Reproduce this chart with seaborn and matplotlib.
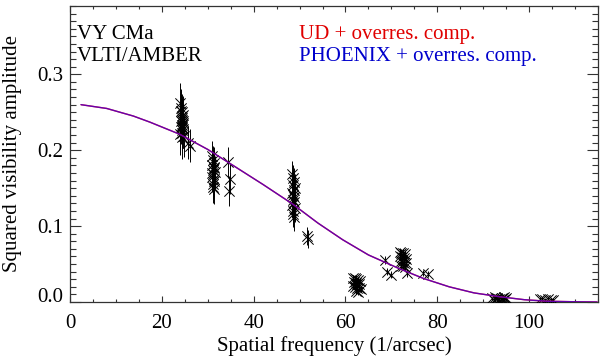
import numpy as np
import pandas as pd
import seaborn as sns
import matplotlib.pyplot as plt
from matplotlib.ticker import MultipleLocator

# model curves (UD and PHOENIX fits overlap almost exactly)
curve_f = [2.4, 8, 13.8, 17.4, 23.9, 30, 35.5, 42, 48.5, 54, 59.4, 65, 71.7, 77,
           82.6, 88, 93.5, 99, 104, 110, 114.8]
curve_v = [0.260, 0.255, 0.245, 0.237, 0.221, 0.201, 0.180, 0.155, 0.129, 0.104, 0.082,
           0.062, 0.044, 0.031, 0.020, 0.012, 0.007, 0.003, 0.001, 0.0003, 0.0]

# AMBER data: spatial frequency, squared visibility, error
f1 = [24.0, 24.2, 24.4, 24.6, 24.3, 24.5, 24.1, 24.7, 24.4, 24.2, 24.6, 24.3, 24.5, 24.0,
      24.8, 24.4, 24.2, 24.6, 24.5, 24.3, 25.8, 26.2]
v1 = [0.262, 0.255, 0.250, 0.246, 0.243, 0.240, 0.238, 0.236, 0.233, 0.230, 0.228, 0.226,
      0.223, 0.221, 0.219, 0.245, 0.252, 0.239, 0.231, 0.218, 0.210, 0.206]
e1 = [0.027, 0.025, 0.024, 0.026, 0.022, 0.025, 0.023, 0.024, 0.026, 0.022, 0.025, 0.024,
      0.023, 0.027, 0.028, 0.024, 0.026, 0.022, 0.025, 0.029, 0.022, 0.022]

f2 = [31.0, 31.2, 31.4, 30.9, 31.3, 31.1, 31.5, 31.2, 31.0, 31.4, 31.3, 31.1, 31.2, 31.4,
      30.9, 31.3, 34.4, 34.8, 34.6]
v2 = [0.192, 0.187, 0.183, 0.180, 0.177, 0.174, 0.171, 0.168, 0.165, 0.162, 0.159, 0.156,
      0.152, 0.149, 0.170, 0.178, 0.184, 0.162, 0.146]
e2 = [0.020, 0.019, 0.021, 0.018, 0.020, 0.019, 0.022, 0.018, 0.020, 0.019, 0.021, 0.020,
      0.022, 0.020, 0.018, 0.019, 0.020, 0.020, 0.020]

f3 = [48.4, 48.6, 48.8, 48.5, 48.9, 48.7, 48.3, 48.6, 48.8, 48.5, 48.7, 48.4, 48.9, 48.6,
      48.5, 48.7, 51.6, 51.9]
v3 = [0.168, 0.163, 0.158, 0.154, 0.150, 0.147, 0.144, 0.141, 0.138, 0.135, 0.132, 0.128,
      0.124, 0.120, 0.116, 0.112, 0.087, 0.083]
e3 = [0.018, 0.017, 0.019, 0.016, 0.018, 0.017, 0.018, 0.016, 0.019, 0.017, 0.018, 0.017,
      0.019, 0.018, 0.017, 0.019, 0.012, 0.012]

f4 = [61.6, 62.0, 62.4, 62.8, 63.2, 61.8, 62.2, 62.6, 63.0, 61.7, 62.1, 62.5, 62.9, 63.3,
      62.3, 62.7, 68.5, 69.1, 70.0]
v4 = [0.032, 0.031, 0.030, 0.029, 0.028, 0.026, 0.025, 0.024, 0.024, 0.021, 0.020, 0.019,
      0.018, 0.017, 0.014, 0.013, 0.055, 0.040, 0.036]
e4 = [0.004, 0.004, 0.005, 0.004, 0.004, 0.004, 0.005, 0.004, 0.004, 0.004, 0.005, 0.004,
      0.004, 0.004, 0.004, 0.004, 0.005, 0.005, 0.005]

f5 = [71.8, 72.2, 72.6, 73.0, 71.9, 72.3, 72.7, 73.1, 72.0, 72.4, 72.8, 73.2, 72.1, 72.5,
      72.9, 73.4, 76.9, 78.0]
v5 = [0.066, 0.065, 0.064, 0.063, 0.060, 0.059, 0.058, 0.057, 0.054, 0.053, 0.052, 0.051,
      0.048, 0.047, 0.046, 0.038, 0.038, 0.037]
e5 = [0.005, 0.005, 0.006, 0.005, 0.005, 0.005, 0.006, 0.005, 0.005, 0.005, 0.006, 0.005,
      0.005, 0.005, 0.005, 0.005, 0.004, 0.004]

f6 = [92.0, 92.5, 93.0, 93.5, 94.0, 94.5, 95.0, 92.3, 92.8, 93.3, 93.8, 94.3, 94.8,
      102.3, 102.9, 103.5, 104.1, 104.7, 105.2]
v6 = [0.005, 0.006, 0.005, 0.004, 0.005, 0.006, 0.005, 0.003, 0.004, 0.003, 0.004, 0.003,
      0.004, 0.004, 0.004, 0.003, 0.004, 0.003, 0.003]
e6 = [0.002] * 19

df = pd.DataFrame({"freq": f1 + f2 + f3 + f4 + f5 + f6,
                   "v2": v1 + v2 + v3 + v4 + v5 + v6,
                   "err": e1 + e2 + e3 + e4 + e5 + e6})
model = pd.DataFrame({"freq": curve_f, "v2": curve_v})

sns.set_theme(style="ticks")
plt.rcParams['font.family'] = ['Liberation Serif', 'DejaVu Serif']
plt.rcParams['text.color'] = 'black'
plt.rcParams['axes.labelcolor'] = 'black'
plt.rcParams['xtick.labelcolor'] = 'black'
plt.rcParams['ytick.labelcolor'] = 'black'

fig = plt.figure(figsize=(6, 3.63), dpi=100)
ax = fig.add_axes([70 / 600, 61 / 363, 528 / 600, 296 / 363])

ax.errorbar(df["freq"], df["v2"], yerr=df["err"], fmt="none", ecolor="black",
            elinewidth=0.7, capsize=0, zorder=2)
sns.scatterplot(data=df, x="freq", y="v2", marker="x", color="black", s=55,
                linewidth=0.7, ax=ax, zorder=3)
sns.lineplot(data=model, x="freq", y="v2", color="red", lw=1.0, ax=ax, zorder=4)
sns.lineplot(data=model, x="freq", y="v2", color="#1a00ff", lw=1.0, alpha=0.68, ax=ax, zorder=5)

ax.set_xlim(0, 115)
ax.set_ylim(0, 0.39)
ax.set_xticks([0, 20, 40, 60, 80, 100])
ax.set_yticks([0.0, 0.1, 0.2, 0.3])
ax.set_yticklabels(["0.0", "0.1", "0.2", "0.3"])
ax.xaxis.set_minor_locator(MultipleLocator(5))
ax.yaxis.set_minor_locator(MultipleLocator(0.01))
ax.tick_params(axis="x", which="major", direction="in", length=4.5, width=0.8,
               top=True, labelsize=15, pad=9, color="#333333")
ax.tick_params(axis="x", which="minor", direction="in", length=2.3, width=0.8,
               top=True, color="#333333")
ax.tick_params(axis="y", which="major", direction="in", length=8, width=0.8,
               right=True, labelsize=15, pad=5, color="#333333")
ax.tick_params(axis="y", which="minor", direction="in", length=4.5, width=0.8,
               right=True, color="#333333")
ax.yaxis.get_major_ticks()[0].label1.set_va("baseline")
for sp in ax.spines.values():
    sp.set_color("#333333")
    sp.set_linewidth(0.9)

ax.set_xlabel("Spatial frequency (1/arcsec)", fontsize=15)
ax.set_ylabel("Squared visibility amplitude", fontsize=15)
ax.xaxis.set_label_coords(0.5, -0.115)
ax.yaxis.set_label_coords(-0.09, 0.5)

ax.text(0.013, 0.935, "VY CMa", transform=ax.transAxes, fontsize=15, va="top")
ax.text(0.013, 0.863, "VLTI/AMBER", transform=ax.transAxes, fontsize=15, va="top")
ax.text(0.434, 0.935, "UD + overres. comp.", transform=ax.transAxes, fontsize=15,
        va="top", color="#e00000")
ax.text(0.434, 0.863, "PHOENIX + overres. comp.", transform=ax.transAxes, fontsize=15,
        va="top", color="#0000cc")

fig.savefig("out.png", dpi=100)
